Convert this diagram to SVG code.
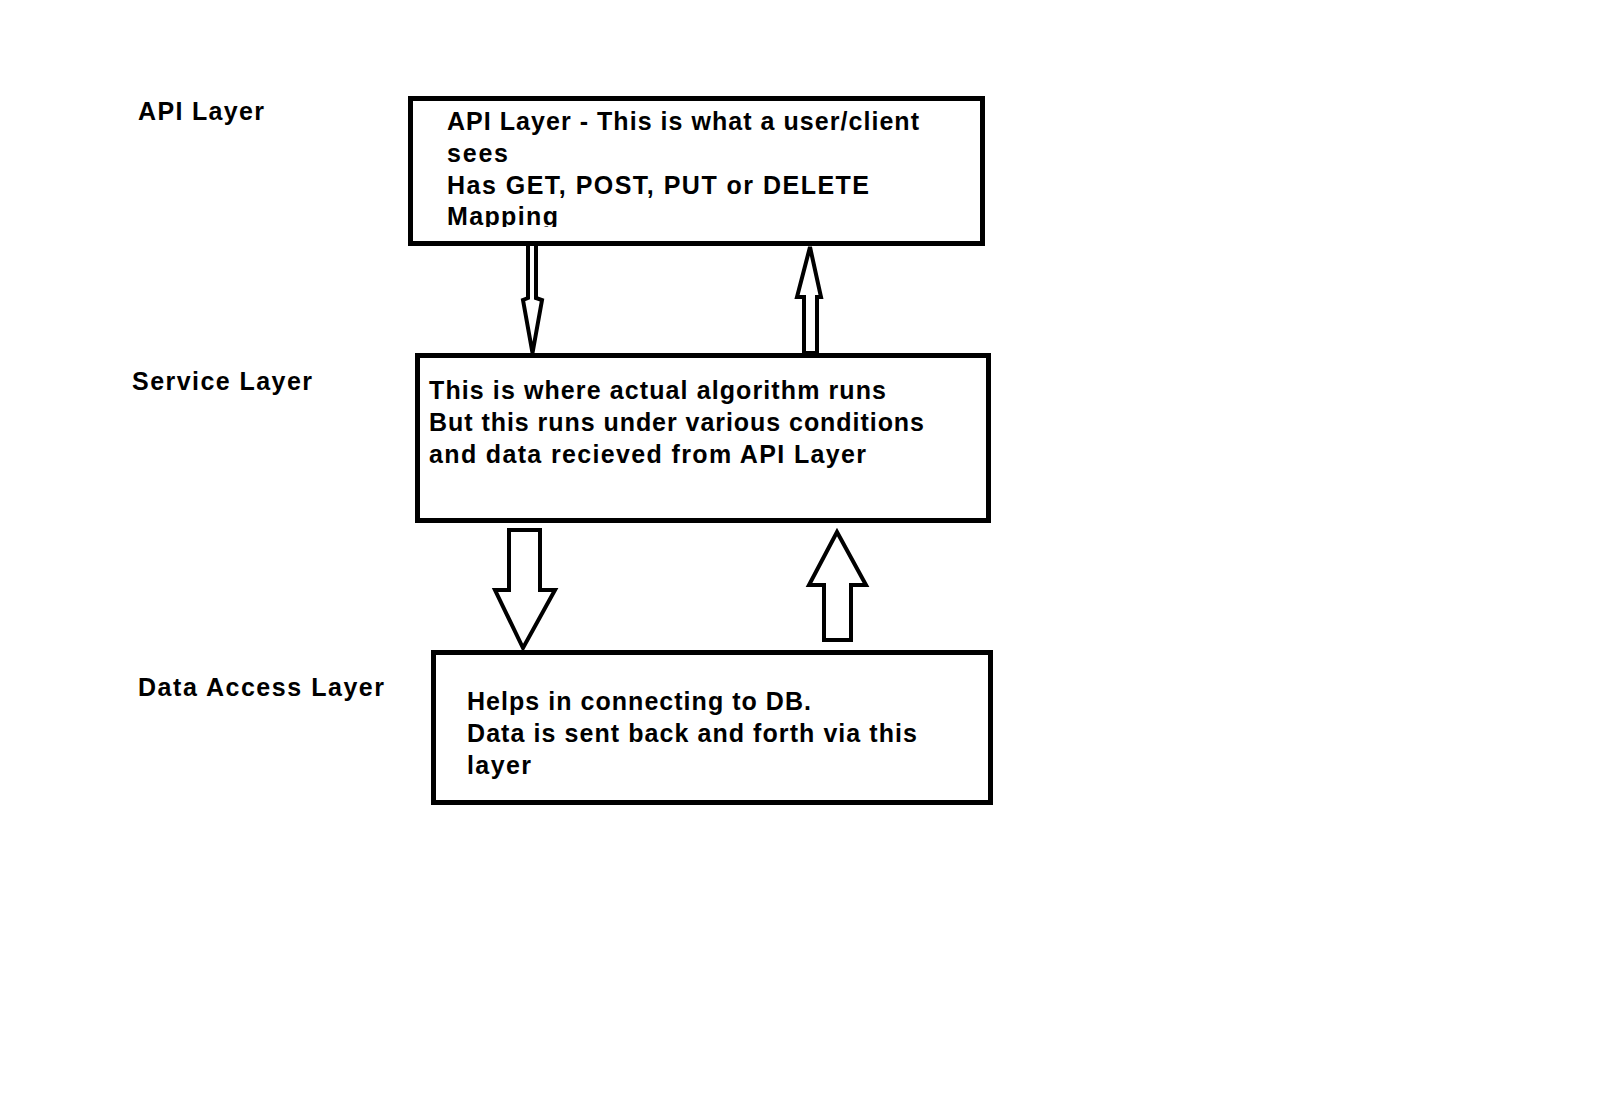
<svg xmlns="http://www.w3.org/2000/svg" width="1621" height="1117" viewBox="0 0 1621 1117">
<style>
.box{fill:#fff;stroke:#000;stroke-width:5}
.arr{fill:#fff;stroke:#000;stroke-width:4;stroke-linejoin:miter}
.t{font-family:"Liberation Sans",Arial,sans-serif;font-weight:bold;font-size:25px;fill:#000}
.lbl{font-family:"Liberation Sans",Arial,sans-serif;font-weight:bold;font-size:25px;fill:#000}
</style>
<defs>
<clipPath id="c1"><rect x="413" y="101" width="567" height="126"/></clipPath>
</defs>
<rect width="1621" height="1117" fill="#fff"/>
<g id="labels">
<text class="lbl" x="138" y="120" textLength="126" lengthAdjust="spacing">API Layer</text>
<text class="lbl" x="132" y="390" textLength="180" lengthAdjust="spacing">Service Layer</text>
<text class="lbl" x="138" y="696" textLength="246" lengthAdjust="spacing">Data Access Layer</text>
</g>
<g id="api-layer">
<rect class="box" x="410.5" y="98.5" width="572" height="145"/>
<g clip-path="url(#c1)">
<text class="t" x="447" y="130" textLength="472" lengthAdjust="spacing">API Layer - This is what a user/client</text>
<text class="t" x="447" y="162" textLength="61" lengthAdjust="spacing">sees</text>
<text class="t" x="447" y="194" textLength="422" lengthAdjust="spacing">Has GET, POST, PUT or DELETE</text>
<text class="t" x="447" y="225" textLength="111" lengthAdjust="spacing">Mapping</text>
</g>
</g>
<g id="service-layer">
<rect class="box" x="417.5" y="355.5" width="571" height="165"/>
<text class="t" x="429" y="399" textLength="457" lengthAdjust="spacing">This is where actual algorithm runs</text>
<text class="t" x="429" y="431" textLength="495" lengthAdjust="spacing">But this runs under various conditions</text>
<text class="t" x="429" y="463" textLength="437" lengthAdjust="spacing">and data recieved from API Layer</text>
</g>
<g id="data-access-layer">
<rect class="box" x="433.5" y="652.5" width="557" height="150"/>
<text class="t" x="467" y="710" textLength="344" lengthAdjust="spacing">Helps in connecting to DB.</text>
<text class="t" x="467" y="742" textLength="450" lengthAdjust="spacing">Data is sent back and forth via this</text>
<text class="t" x="467" y="774" textLength="64" lengthAdjust="spacing">layer</text>
</g>
<g id="connectors">
<polygon class="arr" points="528,244 528,298 523,300 532.5,353 542,300 536,298 536,244"/>
<polygon class="arr" points="810,247 797,297 804,297 804,353 817,353 817,297 821,297"/>
<polygon class="arr" points="509,530 540,530 540,590 555,590 523,648 495,590 509,590"/>
<polygon class="arr" points="837,532 866,585 851,585 851,640 824,640 824,585 809,585"/>
</g>
</svg>
